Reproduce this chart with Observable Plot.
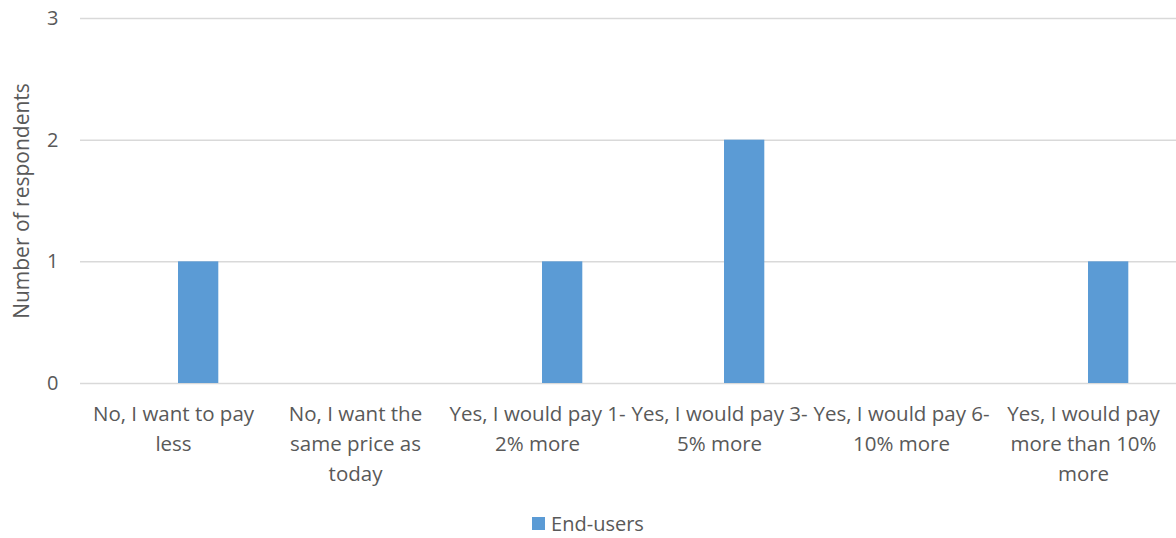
<!DOCTYPE html>
<html>
<head>
<meta charset="utf-8">
<script src="https://cdn.jsdelivr.net/npm/d3@7"></script>
<script src="https://cdn.jsdelivr.net/npm/@observablehq/plot@0.6"></script>
<style>
  html, body { margin: 0; padding: 0; background: #fff; }
  #chart { width: 1176px; height: 538px; position: relative; font-family: "Open Sans", sans-serif; color: #595959; }
  .legend { position: absolute; left: 0; top: 510px; width: 1176px; display: flex; justify-content: center; align-items: center; font-size: 20px; color: #595959; }
  .legend .sw { width: 13px; height: 13px; background: #5b9bd5; margin-right: 6px; }
</style>
</head>
<body>
<div id="chart"></div>
<script>
const categories = [
  "No, I want to pay less",
  "No, I want the same price as today",
  "Yes, I would pay 1-2% more",
  "Yes, I would pay 3-5% more",
  "Yes, I would pay 6-10% more",
  "Yes, I would pay more than 10% more"
];
const tickLabels = [
  "No, I want to pay\nless",
  "No, I want the\nsame price as\ntoday",
  "Yes, I would pay 1-\n2% more",
  "Yes, I would pay 3-\n5% more",
  "Yes, I would pay 6-\n10% more",
  "Yes, I would pay\nmore than 10%\nmore"
];
const endUsers = [1, 0, 1, 2, 0, 1];
const seriesName = "End-users";
const yTicks = [0, 1, 2, 3];

const data = categories.map((c, i) => ({category: c, value: endUsers[i]}));
const labelOf = new Map(categories.map((c, i) => [c, tickLabels[i]]));

const plot = Plot.plot({
  width: 1176,
  height: 505,
  marginLeft: 80,
  marginRight: 0,
  marginTop: 18,
  marginBottom: 122,
  style: {fontFamily: "'Open Sans', sans-serif", fontSize: "20px", color: "#595959", background: "#fff", overflow: "visible"},
  x: {domain: categories, padding: 0},
  y: {domain: [0, 3]},
  marks: [
    Plot.gridY(yTicks, {stroke: "#d9d9d9", strokeOpacity: 1, strokeWidth: 1.5}),
    Plot.barY(data, {x: "category", y: "value", fill: "#5b9bd5", insetLeft: 96, insetRight: 45.7}),
    Plot.axisY({ticks: yTicks, tickFormat: "d", tickSize: 0, tickPadding: 22, label: null, fontSize: 20}),
    Plot.text(["Number of respondents"], {frameAnchor: "left", dx: -58, rotate: -90, textAnchor: "middle", fontSize: 21, fill: "#595959"}),
    Plot.axisX({tickSize: 0, tickPadding: 16, label: null, tickFormat: d => labelOf.get(d), lineHeight: 1.46, fontSize: 20.5})
  ]
});
const chart = document.getElementById("chart");
chart.appendChild(plot);
const legend = document.createElement("div");
legend.className = "legend";
legend.innerHTML = `<span class="sw"></span><span>${seriesName}</span>`;
chart.appendChild(legend);
</script>
</body>
</html>
